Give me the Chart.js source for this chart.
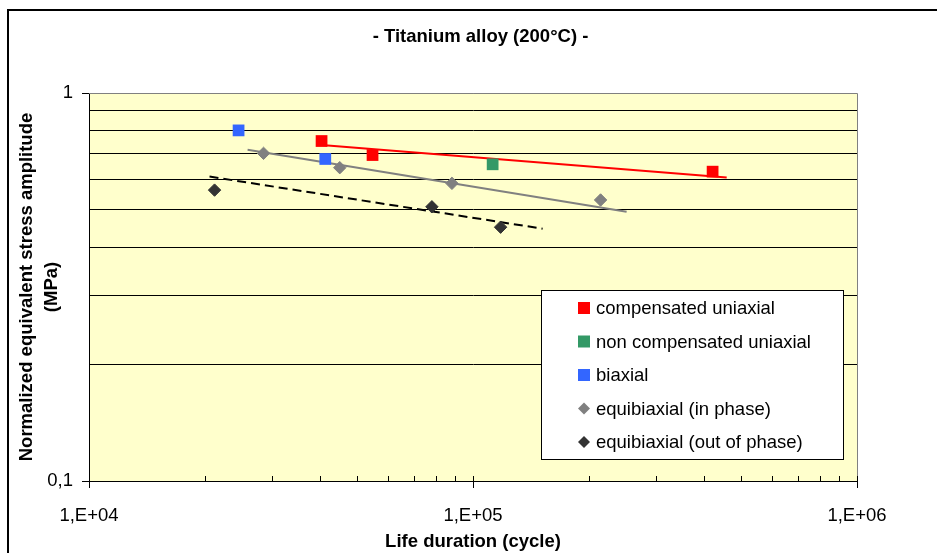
<!DOCTYPE html>
<html>
<head>
<meta charset="utf-8">
<script src="https://cdn.jsdelivr.net/npm/chart.js@4.4.1/dist/chart.umd.min.js"></script>
<style>
  body { margin: 0; background: #fff; }
  canvas { display: block; }
</style>
</head>
<body>
<canvas id="fatigueChart" width="937" height="553"></canvas>
<script>
// Life duration (cycles) and normalized stress amplitude
const compUniaxialN = [40330, 54750, 420700];
const compUniaxialS = [0.752, 0.692, 0.627];
const nonCompUniaxialN = [112500];
const nonCompUniaxialS = [0.655];
const biaxialN = [24520, 41240];
const biaxialS = [0.801, 0.676];
const inPhaseN = [28480, 44980, 88130, 214900];
const inPhaseS = [0.699, 0.642, 0.585, 0.53];
const outPhaseN = [21230, 78160, 118000];
const outPhaseS = [0.562, 0.509, 0.451];

// trend line end points
const compTrendN = [40330, 457800];
const compTrendS = [0.734, 0.606];
const inPhaseTrendN = [25880, 251200];
const inPhaseTrendS = [0.714, 0.494];
const outPhaseTrendN = [20600, 151800];
const outPhaseTrendS = [0.609, 0.447];

// axis ticks
const xTicks = [10000, 20000, 30000, 40000, 50000, 60000, 70000, 80000, 90000,
  100000, 200000, 300000, 400000, 500000, 600000, 700000, 800000, 900000, 1000000];
const xTickLabels = ["1,E+04", "", "", "", "", "", "", "", "",
  "1,E+05", "", "", "", "", "", "", "", "", "1,E+06"];
const xMajor = [10000, 100000, 1000000];
const yTicks = [0.1, 0.2, 0.3, 0.4, 0.5, 0.6, 0.7, 0.8, 0.9, 1];
const yTickLabels = ["0,1", "", "", "", "", "", "", "", "", "1"];
const yMajor = [0.1, 1];

const FONT = "'Liberation Sans', Arial, sans-serif";

function pts(xs, ys) {
  return xs.map((x, i) => ({ x: x, y: ys[i] }));
}

function markers(label, xs, ys, color, style) {
  const square = style === "rect";
  return {
    type: "scatter",
    label: label,
    data: pts(xs, ys),
    pointStyle: style,
    pointRadius: square ? 8.3 : 6.2,
    pointBackgroundColor: color,
    pointBorderColor: color,
    pointBorderWidth: square ? 0 : 1,
    backgroundColor: color,
    borderColor: color,
    showLine: false,
    order: 1,
  };
}

function trend(xs, ys, color, dash) {
  return {
    type: "line",
    trend: true,
    data: pts(xs, ys),
    borderColor: color,
    borderWidth: 2,
    borderDash: dash || [],
    pointRadius: 0,
    fill: false,
    order: 2,
  };
}

// yellow plot area and outer frame
const backdrop = {
  id: "backdrop",
  beforeDraw(chart) {
    const { ctx, chartArea: a } = chart;
    ctx.save();
    ctx.fillStyle = "#fff";
    ctx.fillRect(0, 0, chart.width, chart.height);
    ctx.fillStyle = "#FFFFCC";
    ctx.fillRect(a.left, a.top, a.right - a.left, a.bottom - a.top);
    ctx.strokeStyle = "#000";
    ctx.lineWidth = 2;
    ctx.strokeRect(8, 10, chart.width + 20, chart.height + 20);
    ctx.restore();
  },
  beforeDatasetsDraw(chart) {
    const { ctx, chartArea: a } = chart;
    ctx.save();
    ctx.strokeStyle = "#808080";
    ctx.lineWidth = 1;
    ctx.beginPath();
    ctx.moveTo(a.left, a.top + 0.5);
    ctx.lineTo(a.right + 0.5, a.top + 0.5);
    ctx.lineTo(a.right + 0.5, a.bottom);
    ctx.stroke();
    ctx.restore();
  },
};

// x axis tick marks: minor ones point inside, major ones cross the axis
const xTickMarks = {
  id: "xTickMarks",
  afterDraw(chart) {
    const { ctx, chartArea: a } = chart;
    const xs = chart.scales.x;
    ctx.save();
    ctx.strokeStyle = "#000";
    ctx.lineWidth = 1;
    xTicks.forEach((v) => {
      const px = Math.round(xs.getPixelForValue(v)) + 0.5;
      const major = xMajor.includes(v);
      ctx.beginPath();
      ctx.moveTo(px, a.bottom - 5);
      ctx.lineTo(px, a.bottom + (major ? 7 : 0));
      ctx.stroke();
    });
    ctx.restore();
  },
};

// legend box inside the plot area
const boxLegend = {
  id: "boxLegend",
  afterDraw(chart) {
    const { ctx, chartArea: a } = chart;
    const w = 302, h = 169;
    const left = a.right - 14 - w;
    const top = a.bottom - 22 - h;
    ctx.save();
    ctx.fillStyle = "#fff";
    ctx.fillRect(left, top, w, h);
    ctx.strokeStyle = "#000";
    ctx.lineWidth = 1;
    ctx.strokeRect(left + 0.5, top + 0.5, w, h);
    ctx.font = "18.5px " + FONT;
    ctx.textBaseline = "middle";
    ctx.textAlign = "left";
    const items = chart.data.datasets.filter((d) => !d.trend);
    items.forEach((d, i) => {
      const y = top + 18 + i * 33.5;
      const mx = left + 43;
      ctx.fillStyle = d.backgroundColor;
      ctx.beginPath();
      if (d.pointStyle === "rect") {
        ctx.rect(mx - 6, y - 6, 12, 12);
      } else {
        ctx.moveTo(mx - 6, y);
        ctx.lineTo(mx, y - 6);
        ctx.lineTo(mx + 6, y);
        ctx.lineTo(mx, y + 6);
        ctx.closePath();
      }
      ctx.fill();
      ctx.fillStyle = "#000";
      ctx.fillText(d.label, left + 55, y + 1);
    });
    ctx.restore();
  },
};

const ctx = document.getElementById("fatigueChart").getContext("2d");
new Chart(ctx, {
  data: {
    datasets: [
      markers("compensated uniaxial", compUniaxialN, compUniaxialS, "#FF0000", "rect"),
      markers("non compensated uniaxial", nonCompUniaxialN, nonCompUniaxialS, "#339966", "rect"),
      markers("biaxial", biaxialN, biaxialS, "#3366FF", "rect"),
      markers("equibiaxial (in phase)", inPhaseN, inPhaseS, "#808080", "rectRot"),
      markers("equibiaxial (out of phase)", outPhaseN, outPhaseS, "#333333", "rectRot"),
      trend(compTrendN, compTrendS, "#FF0000"),
      trend(inPhaseTrendN, inPhaseTrendS, "#808080"),
      trend(outPhaseTrendN, outPhaseTrendS, "#000000", [9, 5]),
    ],
  },
  options: {
    responsive: false,
    animation: false,
    layout: { padding: { left: 24, right: 0, top: 0, bottom: 0 } },
    plugins: {
      legend: { display: false },
      tooltip: { enabled: false },
      title: {
        display: true,
        text: "- Titanium alloy (200°C) -",
        color: "#000",
        font: { family: FONT, size: 18.5, weight: "bold", lineHeight: 1.2 },
        padding: { top: 26, bottom: 44.8 },
      },
    },
    scales: {
      x: {
        type: "logarithmic",
        min: 10000,
        max: 1000000,
        afterBuildTicks: (s) => {
          s.ticks = xTicks.map((v) => ({ value: v }));
        },
        afterFit: (s) => {
          s.height = 72;
        },
        grid: { display: false },
        border: { display: true, color: "#000", width: 1 },
        ticks: {
          autoSkip: false,
          maxRotation: 0,
          padding: 16,
          color: "#000",
          font: { family: FONT, size: 18.5 },
          callback: (v) => {
            const i = xTicks.indexOf(v);
            return i >= 0 ? xTickLabels[i] : "";
          },
        },
        title: {
          display: true,
          text: "Life duration (cycle)",
          color: "#000",
          font: { family: FONT, size: 18.5, weight: "bold", lineHeight: 1.2 },
          padding: { top: 0, bottom: 0 },
        },
      },
      y: {
        type: "logarithmic",
        min: 0.1,
        max: 1,
        afterBuildTicks: (s) => {
          s.ticks = yTicks.map((v) => ({ value: v }));
        },
        afterFit: (s) => {
          s.width = 65;
        },
        grid: {
          color: (c) => (c.tick && c.tick.value === 1 ? "#808080" : "#000"),
          tickColor: (c) => (c.tick && yMajor.includes(c.tick.value) ? "#000" : "rgba(0,0,0,0)"),
          tickLength: 7,
          lineWidth: 1,
        },
        border: { display: true, color: "#000", width: 1 },
        ticks: {
          autoSkip: false,
          padding: 9,
          color: "#000",
          font: { family: FONT, size: 18.5 },
          callback: (v) => {
            const i = yTicks.indexOf(v);
            return i >= 0 ? yTickLabels[i] : "";
          },
        },
        title: {
          display: true,
          text: ["Normalized equivalent stress amplitude", "(MPa)"],
          color: "#000",
          font: { family: FONT, size: 18.5, weight: "bold", lineHeight: 1.35 },
          padding: { top: -10, bottom: 0 },
        },
      },
      y2: {
        type: "logarithmic",
        position: "right",
        min: 0.1,
        max: 1,
        display: true,
        grid: { display: false },
        border: { display: false },
        ticks: { display: false },
        afterFit: (s) => {
          s.width = 80;
        },
      },
    },
  },
  plugins: [backdrop, xTickMarks, boxLegend],
});
</script>
</body>
</html>
